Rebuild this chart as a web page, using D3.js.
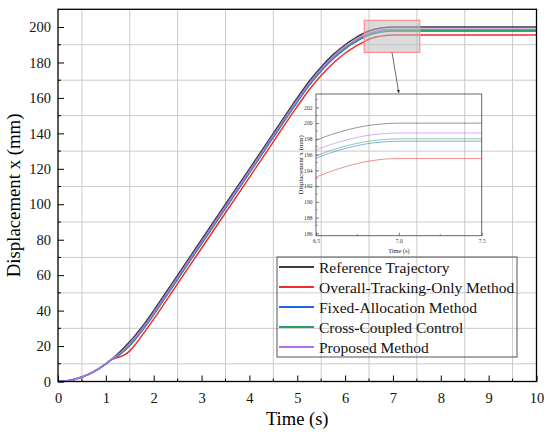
<!DOCTYPE html>
<html>
<head>
<meta charset="utf-8">
<script src="https://cdn.jsdelivr.net/npm/d3@7"></script>
<style>
  body { margin: 0; background: #fff; }
  svg { display: block; font-family: "Liberation Serif", "Times New Roman", serif; }
</style>
</head>
<body>
<svg width="550" height="437"></svg>
<script>
// time samples (s)
var time = [0, 0.25, 0.5, 0.75, 1.0, 1.1, 1.2, 1.3, 1.4, 1.5, 1.6, 1.7, 1.8, 1.9, 2.0,
            2.5, 3.0, 3.5, 4.0, 4.5, 5.0, 5.25, 5.5, 5.75, 6.0, 6.2, 6.4, 6.5, 6.6, 6.7,
            6.8, 6.9, 7.0, 7.25, 7.5, 8.0, 9.0, 10.0];

// displacement (mm)
var reference = [0, 0.6, 2.5, 5.6, 10.0, 12.1, 14.4, 16.9, 19.6, 22.5, 25.6, 28.9, 32.4, 36.1, 40.0,
                 60.0, 80.0, 100.0, 120.0, 140.0, 160.0, 169.4, 177.5, 184.4, 190.0, 193.6, 196.6, 197.8, 198.6, 199.2,
                 199.65, 199.9, 200.0, 200.0, 200.0, 200.0, 200.0, 200.0];
var overallOnly = [0, 0.6, 2.5, 5.6, 10.0, 12.1, 13.2, 14.0, 15.2, 17.3, 20.3, 23.9, 27.6, 31.4, 35.2,
                   55.2, 75.2, 95.2, 115.2, 135.2, 155.2, 164.6, 172.7, 179.6, 185.2, 188.8, 191.8, 193.1, 193.95, 194.6,
                   195.1, 195.4, 195.5, 195.5, 195.5, 195.5, 195.5, 195.5];
var fixedAlloc = [0, 0.6, 2.5, 5.6, 10.0, 12.1, 13.7, 15.5, 17.7, 20.3, 23.3, 26.6, 30.1, 33.8, 37.7,
                  57.7, 77.7, 97.7, 117.7, 137.7, 157.7, 167.1, 175.2, 182.1, 187.7, 191.3, 194.3, 195.5, 196.3, 196.9,
                  197.35, 197.6, 197.7, 197.7, 197.7, 197.7, 197.7, 197.7];
var crossCoupled = [0, 0.6, 2.5, 5.6, 10.0, 12.1, 13.8, 15.7, 18.0, 20.6, 23.6, 26.9, 30.4, 34.1, 38.0,
                    58.0, 78.0, 98.0, 118.0, 138.0, 158.0, 167.4, 175.5, 182.4, 188.0, 191.6, 194.6, 195.8, 196.6, 197.2,
                    197.65, 197.9, 198.0, 198.0, 198.0, 198.0, 198.0, 198.0];
var proposed = [0, 0.6, 2.5, 5.6, 10.0, 12.1, 14.0, 16.1, 18.5, 21.25, 24.35, 27.65, 31.15, 34.85, 38.75,
                58.75, 78.75, 98.75, 118.75, 138.75, 158.75, 168.15, 176.25, 183.15, 188.75, 192.35, 195.35, 196.55, 197.35, 197.95,
                198.4, 198.65, 198.75, 198.75, 198.75, 198.75, 198.75, 198.75];

var seriesNames = ["Reference Trajectory", "Overall-Tracking-Only Method", "Fixed-Allocation Method",
                   "Cross-Coupled Control", "Proposed Method"];
var seriesValues = [reference, overallOnly, fixedAlloc, crossCoupled, proposed];
var seriesColors = ["#3c3c3c", "#ee2c2c", "#1f66e0", "#25a060", "#b070f0"];

var xTicks = [0, 1, 2, 3, 4, 5, 6, 7, 8, 9, 10];
var xMinor = [0.5, 1.5, 2.5, 3.5, 4.5, 5.5, 6.5, 7.5, 8.5, 9.5];
var yTicks = [0, 20, 40, 60, 80, 100, 120, 140, 160, 180, 200];
var yMinor = [10, 30, 50, 70, 90, 110, 130, 150, 170, 190];

var insetXTicks = [6.5, 7.0, 7.5];
var insetXMinor = [6.75, 7.25];
var insetYTicks = [186, 188, 190, 192, 194, 196, 198, 200, 202];
var insetYMinor = [187, 189, 191, 193, 195, 197, 199, 201, 203];

var zoomBox = { x0: 6.4, x1: 7.56, y0: 185.7, y1: 203.8 };

var svg = d3.select("svg");

const pLeft = 58, pRight = 536.5, pTop = 9.3, pBottom = 381.5;

const x = d3.scaleLinear().domain([0, 10]).range([pLeft, pRight]);
const y = d3.scaleLinear().domain([0, 210]).range([pBottom, pTop]);

// grid (at minor positions)
svg.append("g").selectAll("line").data(yMinor).enter().append("line")
    .attr("x1", pLeft).attr("x2", pRight)
    .attr("y1", d => y(d)).attr("y2", d => y(d))
    .attr("stroke", "#cacaca").attr("stroke-width", 1);
svg.append("g").selectAll("line").data(xMinor).enter().append("line")
    .attr("y1", pTop).attr("y2", pBottom)
    .attr("x1", d => x(d)).attr("x2", d => x(d))
    .attr("stroke", "#cacaca").attr("stroke-width", 1);

// main lines
function lineFor(xs, ys) {
    return d3.line()
        .x((d, i) => xs(time[i]))
        .y(d => ys(d))
        .curve(d3.curveMonotoneX);
}

var drawOrder = [0, 1, 2, 3, 4];
var mainLine = lineFor(x, y);
drawOrder.forEach(function(k) {
    svg.append("path")
        .datum(seriesValues[k])
        .attr("d", mainLine)
        .attr("fill", "none")
        .attr("stroke", seriesColors[k])
        .attr("stroke-width", 1.5);
});

// axes, ticks pointing inward
var yAxis = svg.append("g")
    .attr("transform", `translate(${pLeft},0)`)
    .call(d3.axisLeft(y).tickValues(yTicks).tickSize(-6).tickSizeOuter(0).tickPadding(7));
svg.append("g").selectAll("line").data(yMinor).enter().append("line")
    .attr("x1", pLeft).attr("x2", pLeft + 3)
    .attr("y1", d => y(d)).attr("y2", d => y(d))
    .attr("stroke", "#000");

var xAxis = svg.append("g")
    .attr("transform", `translate(0,${pBottom})`)
    .call(d3.axisBottom(x).tickValues(xTicks).tickSize(-6).tickSizeOuter(0).tickPadding(11));
svg.append("g").selectAll("line").data(xMinor).enter().append("line")
    .attr("y1", pBottom).attr("y2", pBottom - 3)
    .attr("x1", d => x(d)).attr("x2", d => x(d))
    .attr("stroke", "#000");

[yAxis, xAxis].forEach(function(a) {
    a.attr("font-family", "Liberation Serif");
    a.select(".domain").remove();
    a.selectAll("text").attr("font-size", "14.5px").attr("fill", "#111");
    a.selectAll(".tick line").attr("stroke", "#000").attr("stroke-width", 1);
});

// frame
svg.append("rect")
    .attr("x", pLeft).attr("y", pTop)
    .attr("width", pRight - pLeft).attr("height", pBottom - pTop)
    .attr("fill", "none").attr("stroke", "#000").attr("stroke-width", 1.3);

// axis titles
svg.append("text")
    .attr("x", (pLeft + pRight) / 2).attr("y", 425)
    .attr("text-anchor", "middle")
    .attr("font-size", "18.5px")
    .text("Time (s)");

svg.append("text")
    .attr("transform", `translate(20,${(pTop + pBottom) / 2}) rotate(-90)`)
    .attr("text-anchor", "middle")
    .attr("font-size", "18.8px")
    .text("Displacement x (mm)");

// zoom box on the main plot
svg.append("rect")
    .attr("x", x(zoomBox.x0)).attr("y", y(zoomBox.y1))
    .attr("width", x(zoomBox.x1) - x(zoomBox.x0))
    .attr("height", y(zoomBox.y0) - y(zoomBox.y1))
    .attr("fill", "#bdbdbd").attr("fill-opacity", 0.55)
    .attr("stroke", "#ff8c8c").attr("stroke-width", 1.2);

// inset
const iLeft = 316, iRight = 481.7, iTop = 94, iBottom = 235.7;
const xi = d3.scaleLinear().domain([6.5, 7.5]).range([iLeft, iRight]);
const yi = d3.scaleLinear().domain([185.7, 203.7]).range([iBottom, iTop]);

// arrow
svg.append("defs").append("marker")
    .attr("id", "arrow")
    .attr("viewBox", "0 0 10 10")
    .attr("refX", 10).attr("refY", 5)
    .attr("markerWidth", 4).attr("markerHeight", 5)
    .attr("orient", "auto-start-reverse")
    .append("path")
    .attr("d", "M0,0 L10,5 L0,10 z")
    .attr("fill", "#222");

svg.append("line")
    .attr("x1", x((zoomBox.x0 + zoomBox.x1) / 2)).attr("y1", y(zoomBox.y0))
    .attr("x2", (iLeft + iRight) / 2).attr("y2", iTop - 1)
    .attr("stroke", "#444").attr("stroke-width", 0.8)
    .attr("marker-end", "url(#arrow)");

svg.append("clipPath").attr("id", "insetClip")
    .append("rect")
    .attr("x", iLeft).attr("y", iTop)
    .attr("width", iRight - iLeft).attr("height", iBottom - iTop);

var insetLine = lineFor(xi, yi);
var inset = svg.append("g").attr("clip-path", "url(#insetClip)");
drawOrder.forEach(function(k) {
    inset.append("path")
        .datum(seriesValues[k])
        .attr("d", insetLine)
        .attr("fill", "none")
        .attr("stroke", seriesColors[k])
        .attr("stroke-opacity", 0.6)
        .attr("stroke-width", 0.9);
});

var iyAxis = svg.append("g")
    .attr("transform", `translate(${iLeft},0)`)
    .call(d3.axisLeft(yi).tickValues(insetYTicks).tickSize(-3).tickSizeOuter(0).tickPadding(3.5));
var ixAxis = svg.append("g")
    .attr("transform", `translate(0,${iBottom})`)
    .call(d3.axisBottom(xi).tickValues(insetXTicks).tickFormat(d3.format(".1f"))
        .tickSize(-3).tickSizeOuter(0).tickPadding(3.5));
[iyAxis, ixAxis].forEach(function(a) {
    a.attr("font-family", "Liberation Serif");
    a.select(".domain").remove();
    a.selectAll("text").attr("font-size", "5.6px").attr("fill", "#333");
    a.selectAll(".tick line").attr("stroke", "#444").attr("stroke-width", 0.7);
});
svg.append("g").selectAll("line").data(insetYMinor.filter(d => yi(d) > iTop)).enter().append("line")
    .attr("x1", iLeft).attr("x2", iLeft + 1.5)
    .attr("y1", d => yi(d)).attr("y2", d => yi(d))
    .attr("stroke", "#444").attr("stroke-width", 0.7);
svg.append("g").selectAll("line").data(insetXMinor).enter().append("line")
    .attr("y1", iBottom).attr("y2", iBottom - 1.5)
    .attr("x1", d => xi(d)).attr("x2", d => xi(d))
    .attr("stroke", "#444").attr("stroke-width", 0.7);

svg.append("rect")
    .attr("x", iLeft).attr("y", iTop)
    .attr("width", iRight - iLeft).attr("height", iBottom - iTop)
    .attr("fill", "none").attr("stroke", "#555").attr("stroke-width", 0.9);

svg.append("text")
    .attr("x", (iLeft + iRight) / 2).attr("y", 253)
    .attr("text-anchor", "middle")
    .attr("font-size", "6.3px").attr("fill", "#222")
    .text("Time (s)");
svg.append("text")
    .attr("transform", `translate(303,${(iTop + iBottom) / 2}) rotate(-90)`)
    .attr("text-anchor", "middle")
    .attr("font-size", "6.8px").attr("fill", "#222")
    .text("Displacement x (mm)");

// legend
const lgX = 277, lgY = 257, lgW = 240, lgH = 100, rowH = 20;
svg.append("rect")
    .attr("x", lgX).attr("y", lgY).attr("width", lgW).attr("height", lgH)
    .attr("fill", "none").attr("stroke", "#555").attr("stroke-width", 1);

var legend = svg.append("g").selectAll("g")
    .data(seriesNames)
    .enter().append("g")
    .attr("transform", (d, i) => `translate(${lgX}, ${lgY + 10 + i * rowH})`);
legend.append("line")
    .attr("x1", 2).attr("x2", 37)
    .attr("stroke", (d, i) => seriesColors[i])
    .attr("stroke-width", 2);
legend.append("text")
    .attr("x", 42).attr("y", 5.5)
    .attr("font-size", "15.5px").attr("fill", "#111")
    .text(d => d);
</script>
</body>
</html>
